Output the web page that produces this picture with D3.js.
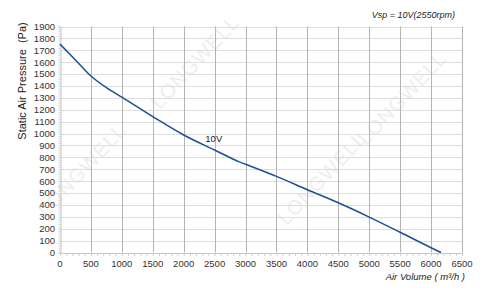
<!DOCTYPE html>
<html>
<head>
<meta charset="utf-8">
<script src="https://cdn.jsdelivr.net/npm/d3@7"></script>
<style>
  body { margin: 0; background: #fff; }
  svg { display: block; font-family: "Liberation Sans", Arial, sans-serif; }
</style>
</head>
<body>
<svg id="chart" width="500" height="290"></svg>
<script>
// fan curve
const airVolume = [0, 250, 500, 750, 1000, 1500, 2000, 2500, 2900, 3000, 3500, 4000, 4500, 5000, 5500, 6000, 6160];
const pressure = [1752, 1619, 1484, 1386, 1306, 1142, 988, 862, 762, 742, 640, 528, 418, 298, 170, 40, 0];
const xTicks = d3.range(0, 6501, 500);
const yTicks = d3.range(0, 1901, 100);
const curveLabel = "10V";
const title = "Vsp = 10V(2550rpm)";

const svg = d3.select("#chart");
const plotLeft = 60, plotRight = 462, plotTop = 26.5, plotBottom = 252.5;

const x = d3.scaleLinear().domain([0, 6500]).range([plotLeft, plotRight]);
const y = d3.scaleLinear().domain([0, 1900]).range([plotBottom, plotTop]);

// faint watermark
const marks = [[195, 62], [82, 170], [322, 178], [402, 98]];
svg.append("g")
  .selectAll("text")
  .data(marks)
  .enter()
  .append("text")
  .attr("transform", d => "translate(" + d[0] + " " + d[1] + ") rotate(-47)")
  .attr("text-anchor", "middle")
  .attr("dy", "0.35em")
  .attr("font-size", 20)
  .attr("letter-spacing", 1)
  .attr("fill", "#eeeeee")
  .text("LONGWELL");

// horizontal grid
svg.append("g")
  .selectAll("line")
  .data(yTicks.filter(d => d > 0))
  .enter()
  .append("line")
  .attr("x1", plotLeft).attr("x2", plotRight)
  .attr("y1", d => Math.round(y(d)) + 0.5)
  .attr("y2", d => Math.round(y(d)) + 0.5)
  .attr("stroke", "#dedede");

// vertical grid
svg.append("g")
  .selectAll("line")
  .data(xTicks.filter(d => d > 0))
  .enter()
  .append("line")
  .attr("x1", d => Math.round(x(d)) + 0.5)
  .attr("x2", d => Math.round(x(d)) + 0.5)
  .attr("y1", plotTop).attr("y2", plotBottom)
  .attr("stroke", "#b4b4b4");

// axes
const yAxis = svg.append("g")
  .attr("transform", "translate(" + (plotLeft + 0.5) + ",0)")
  .call(d3.axisLeft(y).tickValues(d3.range(0, 1901, 20)).tickSize(2).tickFormat(""));
const xAxis = svg.append("g")
  .attr("transform", "translate(0," + (plotBottom + 0.5) + ")")
  .call(d3.axisBottom(x).tickValues(d3.range(0, 6501, 100)).tickSize(3).tickFormat(""));
[xAxis, yAxis].forEach(a => {
  a.select(".domain").attr("stroke", "#c4c4c4");
  a.selectAll(".tick line").attr("stroke", "#cfcfcf");
});

// tick labels
svg.append("g")
  .selectAll("text")
  .data(yTicks)
  .enter()
  .append("text")
  .attr("x", 55)
  .attr("y", d => y(d))
  .attr("dy", "0.36em")
  .attr("text-anchor", "end")
  .attr("font-size", 9.5)
  .attr("fill", "#333")
  .text(d => d);

svg.append("g")
  .selectAll("text")
  .data(xTicks)
  .enter()
  .append("text")
  .attr("x", d => x(d))
  .attr("y", 267)
  .attr("text-anchor", "middle")
  .attr("font-size", 9.5)
  .attr("fill", "#333")
  .text(d => d);

// curve
const line = d3.line()
  .x(d => x(d[0]))
  .y(d => y(d[1]))
  .curve(d3.curveMonotoneX);
svg.append("path")
  .datum(airVolume.map((v, i) => [v, pressure[i]]))
  .attr("d", line)
  .attr("fill", "none")
  .attr("stroke", "#1d4f94")
  .attr("stroke-width", 1.5);

svg.append("text")
  .attr("x", x(2350))
  .attr("y", y(930))
  .attr("font-size", 9.5)
  .attr("fill", "#222")
  .text(curveLabel);

// titles
svg.append("text")
  .attr("x", 455).attr("y", 18)
  .attr("text-anchor", "end")
  .attr("font-size", 9)
  .attr("font-style", "italic")
  .attr("fill", "#222")
  .text(title);

svg.append("text")
  .attr("x", 465).attr("y", 280)
  .attr("text-anchor", "end")
  .attr("font-size", 9.5)
  .attr("font-style", "italic")
  .attr("fill", "#222")
  .text("Air Volume ( m³/h )");

svg.append("text")
  .attr("transform", "translate(26 81) rotate(-90)")
  .attr("text-anchor", "middle")
  .attr("font-size", 11)
  .attr("fill", "#222")
  .attr("xml:space", "preserve")
  .text("Static Air Pressure  (Pa)");
</script>
</body>
</html>
